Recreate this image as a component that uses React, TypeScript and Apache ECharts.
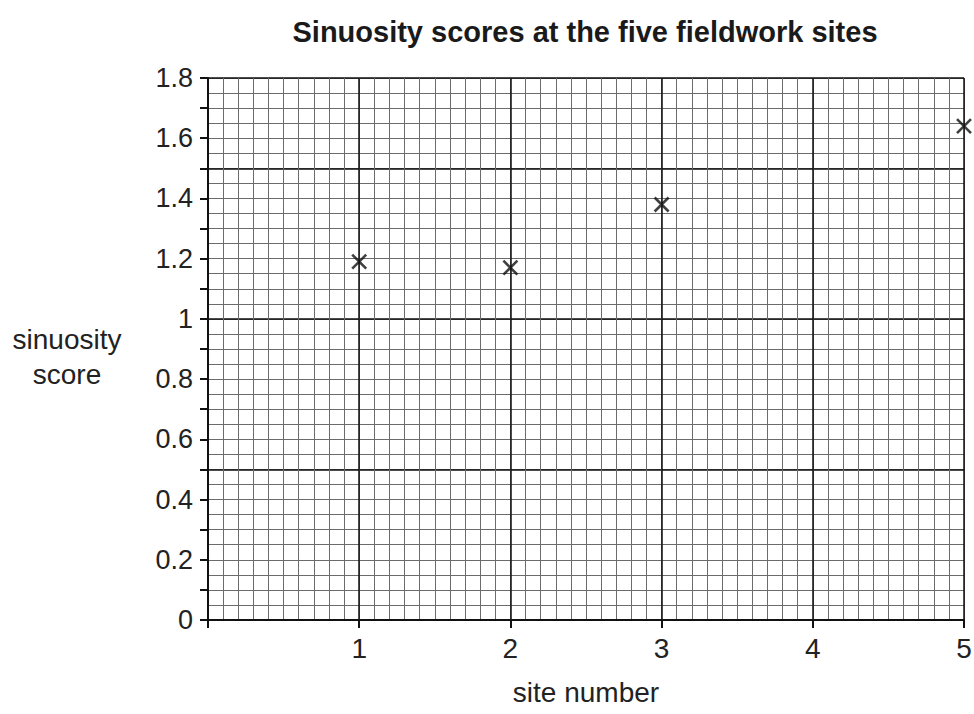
import React, { useEffect, useRef } from "react";
import * as echarts from "echarts";

const sites = [1, 2, 3, 5];
const scores = [1.19, 1.17, 1.38, 1.64];
const xTicks = [1, 2, 3, 4, 5];
const yTickLabels = ["0", "0.2", "0.4", "0.6", "0.8", "1", "1.2", "1.4", "1.6", "1.8"];
const yAxisName = "sinuosity\nscore";

export default function App() {
  const ref = useRef<HTMLDivElement>(null);
  useEffect(() => {
    const chart = echarts.init(ref.current!, null, { renderer: "svg" });
    const font = "Liberation Sans";
    const hidden = { show: false };
    chart.setOption({
      animation: false,
      backgroundColor: "#fff",
      title: {
        text: "Sinuosity scores at the five fieldwork sites",
        left: 580,
        top: 12,
        textAlign: "center",
        textStyle: { fontFamily: font, fontSize: 29, fontWeight: "bold", color: "#1a1a1a" },
      },
      graphic: [
        {
          type: "text",
          x: 67,
          y: 357,
          style: {
            text: yAxisName,
            fontFamily: font,
            fontSize: 28,
            lineHeight: 35,
            fill: "#222",
            align: "center",
            verticalAlign: "middle",
          },
        },
      ],
      grid: { left: 208, right: 10, top: 78, bottom: 94, outerBoundsMode: "none" },
      xAxis: [
        {
          type: "value",
          min: 0,
          max: 5,
          interval: 0.1,
          axisLine: hidden,
          axisTick: hidden,
          axisLabel: hidden,
          splitLine: { show: true, lineStyle: { color: "#6b6b6b", width: 1 } },
        },
        {
          type: "value",
          min: 0,
          max: 5,
          interval: 1,
          position: "bottom",
          name: "site number",
          nameLocation: "middle",
          nameGap: 58,
          nameTextStyle: { fontFamily: font, fontSize: 28, color: "#222" },
          axisLine: { show: true, onZero: false, lineStyle: { color: "#111", width: 2 } },
          axisTick: { show: true, length: 8, lineStyle: { color: "#111", width: 2 } },
          axisLabel: {
            fontFamily: font,
            fontSize: 28,
            color: "#222",
            margin: 14,
            formatter: (v: number) => (xTicks.includes(v) ? String(v) : ""),
          },
          splitLine: { show: true, lineStyle: { color: "#111", width: 1.5 } },
        },
      ],
      yAxis: [
        {
          type: "value",
          min: 0,
          max: 1.8,
          interval: 0.05,
          axisLine: hidden,
          axisTick: hidden,
          axisLabel: hidden,
          splitLine: { show: true, lineStyle: { color: "#6b6b6b", width: 1 } },
        },
        {
          type: "value",
          min: 0,
          max: 1.8,
          interval: 0.5,
          axisLine: hidden,
          axisTick: hidden,
          axisLabel: hidden,
          splitLine: { show: true, showMaxLine: true, lineStyle: { color: "#111", width: 1.5 } },
        },
        {
          type: "value",
          min: 0,
          max: 1.8,
          interval: 0.2,
          position: "left",
          axisLine: { show: true, onZero: false, lineStyle: { color: "#111", width: 2 } },
          axisTick: { show: true, length: 8, lineStyle: { color: "#111", width: 2 } },
          minorTick: { show: true, splitNumber: 2, length: 8, lineStyle: { color: "#111", width: 2 } },
          axisLabel: {
            fontFamily: font,
            fontSize: 27,
            color: "#222",
            margin: 15,
            formatter: (v: number) => {
              const i = Math.round(v / 0.2);
              return yTickLabels[i] ?? "";
            },
          },
          splitLine: { show: false },
        },
      ],
      series: [
        {
          type: "scatter",
          xAxisIndex: 1,
          yAxisIndex: 2,
          data: sites.map((s, i) => [s, scores[i]]),
          symbol: "path://M0,0L10,10M10,0L0,10",
          symbolSize: 14,
          itemStyle: { color: "none", borderColor: "#111", borderWidth: 2.6 },
          clip: false,
          z: 10,
        },
      ],
    });
    return () => chart.dispose();
  }, []);
  return <div ref={ref} style={{ position: "fixed", left: 0, top: 0, width: 974, height: 714 }} />;
}
